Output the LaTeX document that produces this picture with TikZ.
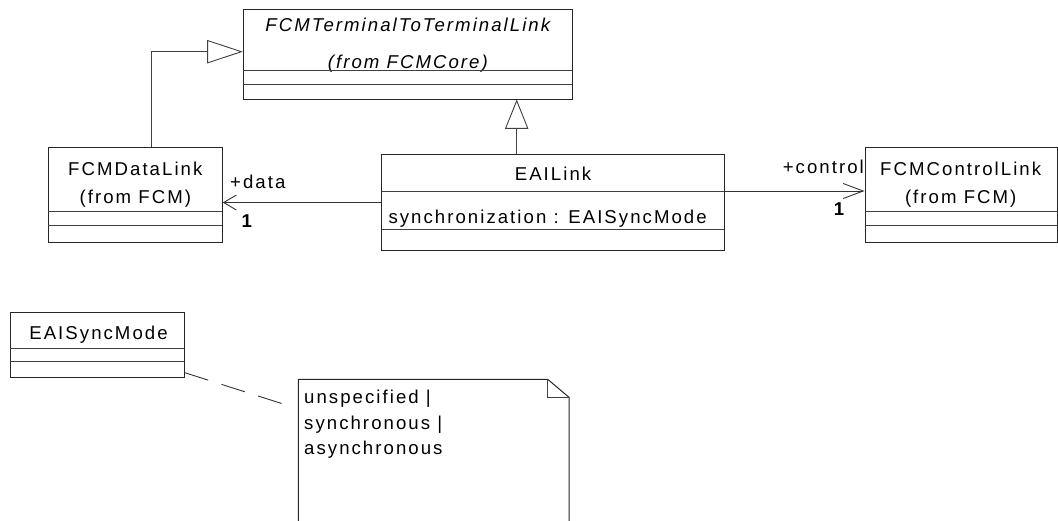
\documentclass[tikz,border=0pt]{standalone}
\usepackage{fontspec}
\usetikzlibrary{arrows.meta, positioning, calc}
\newfontfamily\umlfont[LetterSpace=11]{Liberation Sans}

\begin{document}
\begin{tikzpicture}[
    x=1pt, y=-1pt,
    classbox/.style={rectangle, draw=black!85, line width=1pt, fill=white, inner sep=0pt},
    umltext/.style={inner sep=0pt, font=\umlfont\fontsize{18.6pt}{25.8pt}\selectfont},
    mult/.style={umltext, font=\umlfont\fontsize{18.6pt}{22pt}\selectfont\bfseries},
    divider/.style={draw=black!75, line width=0.9pt},
    inherit/.style={-{Triangle[open, fill=white, length=#1, width=23.3pt]}, draw=black!75, line width=0.9pt},
    assoc/.style={-{Straight Barb[length=#1, width=15pt]}, draw=black!80, line width=0.9pt},
    anchorline/.style={draw=black!80, line width=0.9pt, dash pattern=on 24.5pt off 14pt}
]
    \useasboundingbox (0,0) rectangle (1058,520);

    % classes
    \node[classbox, minimum width=329pt, minimum height=89.7pt] (term) at (407.8,54.15) {};
    \node[umltext, anchor=base, font=\umlfont\fontsize{18.6pt}{22pt}\selectfont\itshape] (termname) at (407.8,31.7) {FCMTerminalToTerminalLink};
    \node[umltext, anchor=base, font=\umlfont\fontsize{18.6pt}{22pt}\selectfont\itshape] (termpkg) at (407.8,68.3) {(from FCMCore)};
    \draw[divider] (243.3,70.7) -- (572.3,70.7);
    \draw[divider] (243.3,84.3) -- (572.3,84.3);

    \node[classbox, minimum width=174pt, minimum height=94.6pt] (datalink) at (135.3,195) {};
    \node[umltext, anchor=base] (datalinkname) at (135.3,175) {FCMDataLink};
    \node[umltext, anchor=base] (datalinkpkg) at (135.3,203.3) {(from FCM)};
    \draw[divider] (48.3,211.3) -- (222.3,211.3);
    \draw[divider] (48.3,225) -- (222.3,225);

    \node[classbox, minimum width=342.6pt, minimum height=96.4pt] (eailink) at (553,202.5) {};
    \node[umltext, anchor=base] (eailinkname) at (553,180.7) {EAILink};
    \node[umltext, anchor=base west] (eailinkattr) at (388.3,223.3) {synchronization : EAISyncMode};
    \draw[divider] (381.7,191) -- (724.3,191);
    \draw[divider] (381.7,229.3) -- (724.3,229.3);

    \node[classbox, minimum width=192.7pt, minimum height=94.6pt] (ctrllink) at (961.35,195) {};
    \node[umltext, anchor=base] (ctrllinkname) at (960.7,175) {FCMControlLink};
    \node[umltext, anchor=base] (ctrllinkpkg) at (960.7,203.3) {(from FCM)};
    \draw[divider] (865,211.3) -- (1057.7,211.3);
    \draw[divider] (865,225) -- (1057.7,225);

    \node[classbox, minimum width=174.3pt, minimum height=65.4pt] (syncmode) at (97.15,345) {};
    \node[umltext, anchor=base] (syncmodename) at (98.5,339.3) {EAISyncMode};
    \draw[divider] (10,348.3) -- (184.3,348.3);
    \draw[divider] (10,361.7) -- (184.3,361.7);

    % note
    \draw[classbox] (298.3,379.3) -- (547.7,379.3) -- (569,397.3) -- (569,530) -- (298.3,530) -- cycle;
    \draw[divider] (547.7,379.3) -- (547.7,397.3) -- (569,397.3);
    \node[umltext, anchor=base west] (noteline1) at (304,403.3) {unspecified |};
    \node[umltext, anchor=base west] (noteline2) at (304,429.1) {synchronous |};
    \node[umltext, anchor=base west] (noteline3) at (304,454.9) {asynchronous};
    \coordinate (noteend) at (283.3,404);

    % generalizations
    \draw[inherit=35.6pt] ([xshift=16.4pt]datalink.north) |- ([yshift=2.45pt]term.west);
    \draw[inherit=29.3pt] ([xshift=-36.3pt]eailink.north) -- ([xshift=-36.3pt]eailink.north |- term.south);

    % associations
    \draw[assoc=12.7pt] (eailink.west) -- (datalink.east |- eailink.west);
    \node[umltext, anchor=base west] (datarole) at (230,188.3) {+data};
    \node[mult, anchor=base] (datamult) at (246.7,227.7) {1};
    \draw[assoc=20pt] ([yshift=11.5pt]eailink.east) -- ([yshift=11.5pt]eailink.east -| ctrllink.west);
    \node[umltext, anchor=base east] (ctrlrole) at (864,173.3) {+control};
    \node[mult, anchor=base] (ctrlmult) at (839,215) {1};

    % note link
    \draw[anchorline] ([yshift=-27.7pt]syncmode.east) -- (noteend);
\end{tikzpicture}
\end{document}
